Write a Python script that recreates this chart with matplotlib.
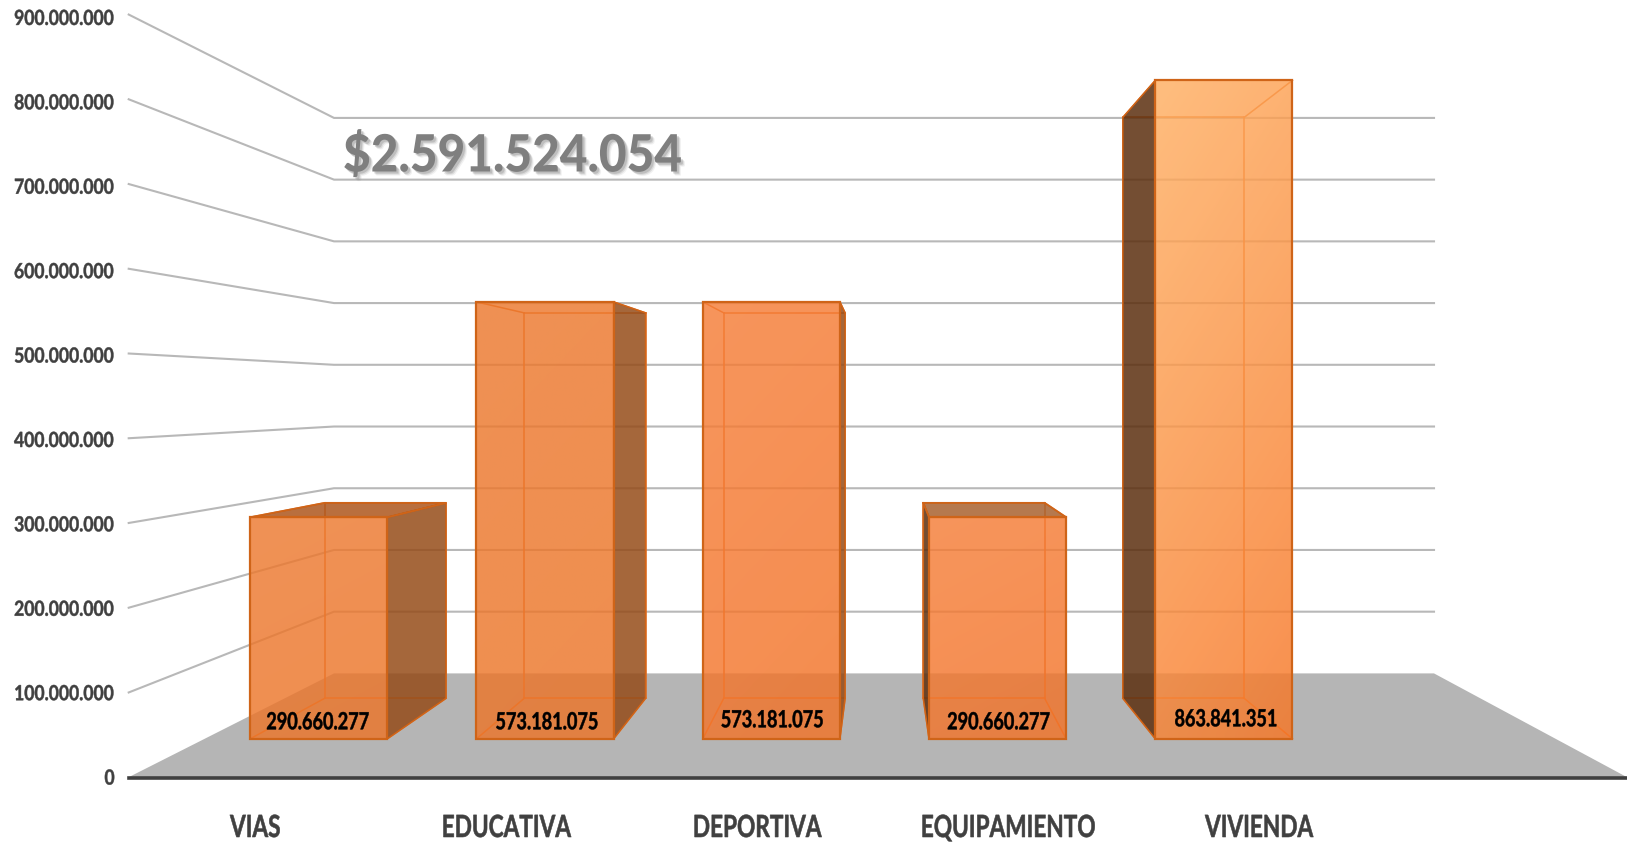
import numpy as np
import matplotlib
matplotlib.use("Agg")
import matplotlib.pyplot as plt
from matplotlib.patches import Polygon
from matplotlib.colors import to_rgb
from matplotlib.patheffects import AbstractPathEffect
from matplotlib.transforms import Affine2D

# ---------- data ----------
categories = ["VIAS", "EDUCATIVA", "DEPORTIVA", "EQUIPAMIENTO", "VIVIENDA"]
values = [290660277, 573181075, 573181075, 290660277, 863841351]
value_labels = ["290.660.277", "573.181.075", "573.181.075", "290.660.277", "863.841.351"]
axis_ticks = [0, 100e6, 200e6, 300e6, 400e6, 500e6, 600e6, 700e6, 800e6, 900e6]
axis_tick_labels = ["0", "100.000.000", "200.000.000", "300.000.000", "400.000.000",
                    "500.000.000", "600.000.000", "700.000.000", "800.000.000", "900.000.000"]
total_label = "$2.591.524.054"

# ---------- styles ----------
front_top = ["#ED7A30", "#EC792E", "#F67E38", "#F67E38", "#FFAF62"]
front_bot = ["#EC7529", "#EC7529", "#F27328", "#F27328", "#F77626"]
side_col = ["#954C19", "#954C19", "#954C19", "#5C2F0F", "#5C2F0F"]
top_col = ["#AD561C", "#AD561C", "#AD561C", "#A8622F", "#9A5024"]
label_nudge_x = [-1, 2, 1, 1, 2]
label_nudge_y = [0, 0, -2, 0, -3]
EDGE = "#CF6418"
INNER = "#E8752B"
FONT = ["Lato", "DejaVu Sans"]

# ---------- perspective frame (pixels of the picture) ----------
W, H = 1627, 844
FX0, FX1 = 128.7, 1627.0     # front floor edge, left/right
BX0, BX1 = 334.0, 1434.0     # back floor edge, left/right
FY, BY = 777.2, 673.4        # floor y at front/back
FU, BU = 84.74, 61.72        # pixels per 100M at front/back
N_SLOTS = 5.97
U_SHIFT = 0.0007
BACK_U = 0.9964              # rear faces sit slightly closer together
BAR_W = 0.1015
T0, T1 = 0.37, 0.76          # bar depth


def proj(u, t, v):
    x0 = FX0 + (BX0 - FX0) * t
    x1 = FX1 + (BX1 - FX1) * t
    floor = FY + (BY - FY) * t
    unit = FU + (BU - FU) * t
    return (x0 + (x1 - x0) * u, floor - v / 1e8 * unit)


class Condensed(AbstractPathEffect):
    """Draws text rescaled about its anchor, optionally shifted, tinted, thickened."""

    def __init__(self, sx, cx, sy=1.0, cy=0.0, dx=0.0, dy=0.0, color=None, alpha=None, bold=0.0):
        super().__init__()
        self.sx, self.cx, self.sy, self.cy, self.dx, self.dy = sx, cx, sy, cy, dx, dy
        self.color, self.alpha, self.bold = color, alpha, bold

    def draw_path(self, renderer, gc, tpath, affine, rgbFace=None):
        tr = (affine + Affine2D().translate(-self.cx, -self.cy).scale(self.sx, self.sy)
              .translate(self.cx + self.dx, self.cy + self.dy))
        gc0 = renderer.new_gc()
        gc0.copy_properties(gc)
        if self.alpha is not None:
            gc0.set_alpha(self.alpha)
        face = to_rgb(self.color) if self.color else rgbFace
        if self.bold:
            gc0.set_foreground(face)
            gc0.set_linewidth(self.bold)
        renderer.draw_path(gc0, tpath, tr, face)
        gc0.restore()


fig = plt.figure(figsize=(W / 100, H / 100), dpi=100)
ax = fig.add_axes([0, 0, 1, 1])
ax.set_xlim(0, W)
ax.set_ylim(H, 0)
ax.axis("off")

# floor
ax.add_patch(Polygon([proj(0, 0, 0), proj(0, 1, 0), proj(1, 1, 0), proj(1, 0, 0)],
                     closed=True, fc="#B5B5B5", ec="none", zorder=1))
# gridlines + wall lines + tick labels
for v, lab in zip(axis_ticks, axis_tick_labels):
    if v > 0:
        a, b, c = proj(0, 0, v), proj(0, 1, v), proj(1, 1, v)
        ax.plot([a[0], b[0], c[0]], [a[1], b[1], c[1]], color="#B8B8B8", lw=1.5,
                solid_joinstyle="miter", zorder=2)
    p = proj(0, 0, v)
    lx, ly = p[0] - 14, p[1] + 1.5 + v / 3e8
    ax.text(lx, ly, lab, ha="right", va="center", family=FONT,
            fontweight="bold", fontsize=14, color="#404040", zorder=6,
            path_effects=[Condensed(0.90, lx, sy=1.07, cy=H - ly, bold=0.35)])
# front axis line
a, b = proj(0, 0, 0), proj(1, 0, 0)
ax.plot([a[0], b[0]], [a[1] + 1, b[1] + 1], color="#404040", lw=2.6, zorder=5)

# category labels
for i, cat in enumerate(categories):
    p = proj((i + 0.5) / N_SLOTS + U_SHIFT, 0, 0)
    ax.text(p[0], 828, cat, ha="center", va="center", family=FONT, fontweight="bold",
            fontsize=22, color="#404040", zorder=6,
            path_effects=[Condensed(0.74, p[0], bold=0.4)])

# bars
for i, val in enumerate(values):
    c = (i + 0.5) / N_SLOTS + U_SHIFT
    ua, ub = c - BAR_W / 2, c + BAR_W / 2
    bc = c * BACK_U
    ra, rb = bc - BAR_W / 2, bc + BAR_W / 2
    fbl, fbr = proj(ua, T0, 0), proj(ub, T0, 0)
    ftl, ftr = proj(ua, T0, val), proj(ub, T0, val)
    bbl, bbr = proj(ra, T1, 0), proj(rb, T1, 0)
    btl, btr = proj(ra, T1, val), proj(rb, T1, val)
    z = 3 + i * 0.01
    # inner (rear) edges
    for seg in [(bbl, bbr), (bbr, btr), (btr, btl), (btl, bbl), (fbl, bbl), (fbr, bbr),
                (ftl, btl), (ftr, btr)]:
        ax.plot([seg[0][0], seg[1][0]], [seg[0][1], seg[1][1]], color=INNER, lw=1.1, zorder=z)
    # side face seen from outside
    if bbr[0] > fbr[0]:
        side = [fbr, ftr, btr, bbr]
    else:
        side = [fbl, ftl, btl, bbl]
    ax.add_patch(Polygon(side, closed=True, fc=side_col[i], alpha=0.85, ec="none", zorder=z + 0.001))
    ax.add_patch(Polygon(side, closed=True, fc="none", ec=EDGE, lw=1.1, zorder=z + 0.002))
    # top face, if seen from above
    if btl[1] < ftl[1]:
        top = [ftl, ftr, btr, btl]
        ax.add_patch(Polygon(top, closed=True, fc=top_col[i], alpha=0.85, ec="none", zorder=z + 0.003))
        ax.add_patch(Polygon(top, closed=True, fc="none", ec=EDGE, lw=1.3, zorder=z + 0.004))
    # gradient front face
    ct, cb = np.array(to_rgb(front_top[i])), np.array(to_rgb(front_bot[i]))
    yy, xx = np.mgrid[0:1:64j, 0:1:64j]
    f = (0.75 * yy + 0.25 * xx)[..., None]
    rgba = np.dstack([ct * (1 - f) + cb * f, np.full(yy.shape, 0.82)])
    im = ax.imshow(rgba, extent=(fbl[0], fbr[0], fbl[1], ftl[1]), origin="upper",
                   aspect="auto", zorder=z + 0.005, interpolation="bilinear")
    front = Polygon([fbl, fbr, ftr, ftl], closed=True, fc="none", ec=EDGE, lw=1.6,
                    zorder=z + 0.006)
    ax.add_patch(front)
    im.set_clip_path(front)
    # value label
    p = proj(c, T0, 0)
    lx = p[0] + label_nudge_x[i]
    ax.text(lx, p[1] - 17 + label_nudge_y[i], value_labels[i], ha="center", va="center",
            family=FONT, fontweight="bold", fontsize=17, color="black", zorder=7,
            path_effects=[Condensed(0.765, lx, bold=0.35)])

ax.set_xlim(0, W)
ax.set_ylim(H, 0)

# total, with a soft shadow built from a few offset passes
tx = 343
shadow = [Condensed(0.93, tx, dx=d, dy=-d, color="#8C8C8C", alpha=a)
          for d, a in [(4, 0.12), (3, 0.22), (2, 0.35)]]
ax.text(tx, 156, total_label, ha="left", va="center", family=FONT,
        fontweight=900, fontsize=37, color="#7F7F7F", zorder=8,
        path_effects=shadow + [Condensed(0.93, tx)])

fig.savefig("out.png", dpi=100, facecolor="white")
